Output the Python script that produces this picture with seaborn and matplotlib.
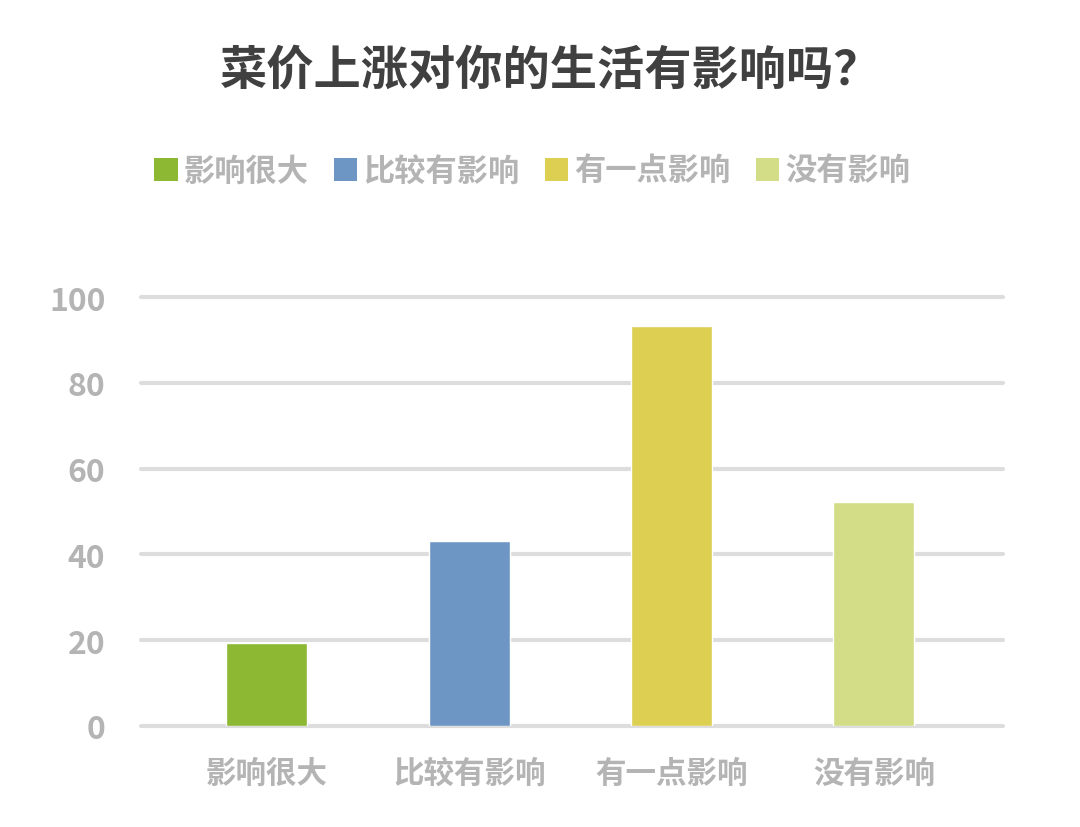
import matplotlib
matplotlib.use('Agg')
import matplotlib.pyplot as plt
import seaborn as sns
import pandas as pd
from matplotlib.patches import Patch

categories = ['影响很大', '比较有影响', '有一点影响', '没有影响']
values = [19.3, 43.1, 93.2, 52.2]
colors = ['#8cb833', '#6e96c5', '#dccf52', '#d3dc86']
y_ticks = [0, 20, 40, 60, 80, 100]
title = '菜价上涨对你的生活有影响吗？'

sns.set_theme(style='white')
plt.rcParams['font.family'] = ['Noto Sans CJK SC', 'DejaVu Sans']

df = pd.DataFrame({'cat': categories, 'val': values})

fig = plt.figure(figsize=(10.8, 8.28), dpi=100)
ax = fig.add_axes([0.131, 0.122, 0.798, 0.518])

sns.barplot(data=df, x='cat', y='val', hue='cat', palette=colors,
            order=categories, hue_order=categories, width=0.4,
            legend=False, ax=ax, zorder=3, saturation=1)

ax.set_xlim(-0.62, 3.64)
ax.set_ylim(0, 100)
ax.set_yticks(y_ticks)
ax.set_yticklabels([str(t) for t in y_ticks])
ax.grid(axis='y', color='#dddddd', linewidth=3, zorder=0)
ax.grid(axis='x', visible=False)
for s in ax.spines.values():
    s.set_visible(False)
for line in ax.yaxis.get_gridlines():
    line.set_clip_on(False)

ax.set_xlabel('')
ax.set_ylabel('')
ax.tick_params(axis='y', colors='#b4b4b4', labelsize=23, pad=26, length=0)
ax.tick_params(axis='x', colors='#b4b4b4', labelsize=22, pad=22, length=0)
for lab in ax.get_xticklabels() + ax.get_yticklabels():
    lab.set_fontweight('bold')

fig.text(0.51, 0.915, title, ha='center', va='center', fontsize=34,
         fontweight='bold', color='#404040')

handles = [Patch(facecolor=c, edgecolor='none') for c in colors]
leg = fig.legend(handles, categories, loc='center', bbox_to_anchor=(0.493, 0.792),
                 ncol=4, frameon=False, fontsize=22.5, handlelength=0.75,
                 handleheight=0.75, handletextpad=0.2, columnspacing=0.8)
for t in leg.get_texts():
    t.set_color('#b4b4b4')
    t.set_fontweight('bold')

fig.savefig('out.png', dpi=100)
